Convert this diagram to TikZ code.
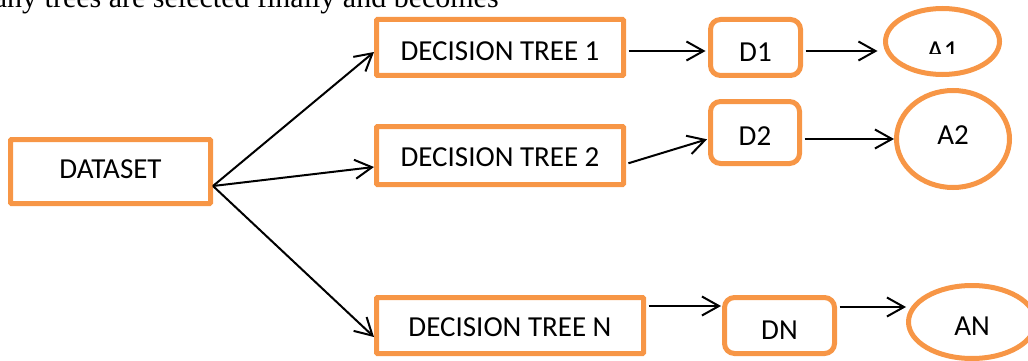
\documentclass[tikz,border=0pt]{standalone}
\usepackage{fontspec}
\setmainfont{Carlito}
\newfontfamily\docserif{Liberation Serif}
\usetikzlibrary{arrows.meta,shapes.geometric}
\definecolor{boxorange}{RGB}{247,150,70}
\begin{document}
\begin{tikzpicture}[x=1pt,y=-1pt,
  box/.style={draw=boxorange,line width=5pt,inner sep=0pt,font=\fontsize{29}{35}\selectfont,text depth=0pt},
  sqbox/.style={box,rectangle,rounded corners=1pt},
  rbox/.style={box,rectangle,rounded corners=10pt},
  ell/.style={box,ellipse},
  th/.style={text height=#1},
  conn/.style={draw=black,line width=2pt,line join=miter,-{Straight Barb[length=17pt,width=19pt]}}]
\useasboundingbox (0,0) rectangle (1028,361);
\clip (0,0) rectangle (1028,361);

\node[font=\docserif\fontsize{30}{36}\selectfont,anchor=base west,inner sep=0pt] (toptext) at (-6.3,8) {any trees are selected finally and becomes};

\node[sqbox,minimum width=200pt,minimum height=64pt,th=14.7pt] (ds) at (110.5,171.5) {DATASET};
\node[sqbox,minimum width=247pt,minimum height=56pt,th=25.7pt] (t1) at (500,47.5) {DECISION TREE 1};
\node[sqbox,minimum width=247pt,minimum height=58pt,th=22.7pt] (t2) at (500,155.5) {DECISION TREE 2};
\node[sqbox,minimum width=267pt,minimum height=56pt,th=21.7pt] (tn) at (510,325.5) {DECISION TREE N};

\node[rbox,minimum width=90pt,minimum height=56pt,th=28.7pt] (d1) at (755.5,47.5) {D1};
\node[rbox,minimum width=89pt,minimum height=62pt,th=25.7pt] (d2) at (755,132.5) {D2};
\node[rbox,minimum width=110pt,minimum height=56pt,th=27.7pt] (dn) at (779.5,325.5) {DN};

\node[ell,minimum width=114pt,minimum height=66pt] (a1) at (942.5,41.5) {};
\begin{scope}
  \clip (880,0) rectangle (1005,54);
  \node[box,draw=none,th=37.3pt] (a1t) at (a1.center) {A1};
\end{scope}
\node[ell,minimum width=113pt,minimum height=97pt,th=10.3pt] (a2) at (953,139) {A2};
\node[ell,minimum width=127pt,minimum height=73pt,th=26.3pt] (an) at (972,322) {AN};

\coordinate (dsout) at ([yshift=-14.5pt]ds.east);
\draw[conn] (dsout) -- ([yshift=-4.5pt]t1.west);
\draw[conn] (dsout) -- ([yshift=-11.5pt]t2.west);
\draw[conn] (dsout) -- ([yshift=-11.5pt]tn.west);

\draw[conn,shorten <=2.5pt,shorten >=2.5pt] ([yshift=-3.5pt]t1.east) -- ([yshift=-3.5pt]d1.west);
\draw[conn,shorten <=2.5pt,shorten >=1pt] ([yshift=-8.5pt]t2.east) -- ([yshift=-6.5pt]d2.west);
\draw[conn,shorten <=2.5pt,shorten >=1pt] ([yshift=19.5pt]tn.east) -- ([yshift=19.5pt]dn.west);

\draw[conn,shorten <=2.5pt] ([yshift=-3.5pt]d1.east) -- ([shift={(-5.5pt,-9.5pt)}]a1.west);
\draw[conn,shorten <=2.5pt] ([yshift=-6.5pt]d2.east) -- (a2.west);
\draw[conn,shorten <=2.5pt] ([yshift=18.5pt]dn.east) -- ([yshift=15pt]an.west);
\end{tikzpicture}
\end{document}
